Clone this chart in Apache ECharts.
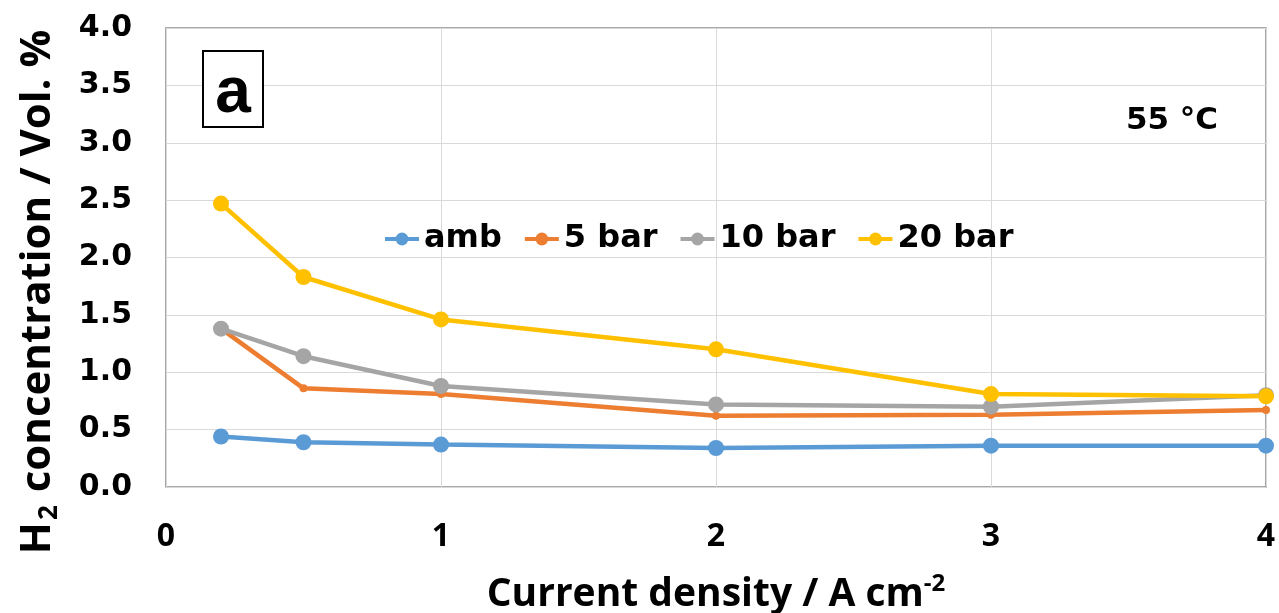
<!DOCTYPE html>
<html>
<head>
<meta charset="utf-8">
<script src="https://cdn.jsdelivr.net/npm/echarts@6/dist/echarts.min.js"></script>
<style>
  html, body { margin: 0; padding: 0; background: #fff; }
  #main { width: 1279px; height: 613px; }
</style>
</head>
<body>
<div id="main"></div>
<script>
// current density, A cm-2
const currentDensity = [0.2, 0.5, 1, 2, 3, 4];
// H2 concentration, vol %
const amb = [0.44, 0.39, 0.37, 0.34, 0.36, 0.36];
const bar5 = [1.38, 0.86, 0.81, 0.62, 0.63, 0.67];
const bar10 = [1.38, 1.14, 0.88, 0.72, 0.70, 0.80];
const bar20 = [2.47, 1.83, 1.46, 1.20, 0.81, 0.79];
const seriesNames = ['amb', '5 bar', '10 bar', '20 bar'];
const seriesColors = ['#5B9BD5', '#ED7D31', '#A5A5A5', '#FFC000'];

const pairs = (ys) => currentDensity.map((x, i) => [x, ys[i]]);

const chart = echarts.init(document.getElementById('main'));

const mkSeries = (name, ys, color, size) => ({
  name: name,
  type: 'line',
  data: pairs(ys),
  symbol: 'circle',
  symbolSize: size,
  itemStyle: { color: color },
  lineStyle: { color: color, width: 4.5 },
  animation: false
});

const option = {
  animation: false,
  grid: {
    left: 166, right: 13, top: 28, bottom: 126,
    outerBoundsMode: 'none',
    show: true, borderColor: '#8c8c8c', borderWidth: 1.5
  },
  legend: {
    left: 378, top: 218,
    itemWidth: 34, itemHeight: 16, itemGap: 21,
    data: seriesNames,
    lineStyle: { width: 4 },
    textStyle: { fontFamily: 'DejaVu Sans', fontWeight: 'bold', fontSize: 32, color: '#000' }
  },
  xAxis: {
    type: 'value', min: 0, max: 4, interval: 1,
    axisLine: { show: false },
    axisTick: { show: false },
    axisLabel: {
      margin: 34, color: '#000',
      fontFamily: 'Open Sans', fontWeight: 'bold', fontSize: 32
    },
    splitLine: { show: true, lineStyle: { color: '#d9d9d9', width: 1 } },
    name: '{t|Current density / A cm}{s|-2}',
    nameLocation: 'middle',
    nameGap: 85,
    nameTextStyle: {
      rich: {
        t: { fontFamily: 'Open Sans', fontWeight: 'bold', fontSize: 39, color: '#000', verticalAlign: 'bottom' },
        s: { fontFamily: 'Open Sans', fontWeight: 'bold', fontSize: 24, color: '#000', verticalAlign: 'top', padding: [0, 0, 18, 0] }
      }
    }
  },
  yAxis: {
    type: 'value', min: 0, max: 4, interval: 0.5,
    axisLine: { show: false },
    axisTick: { show: false },
    axisLabel: {
      margin: 34, color: '#000',
      fontFamily: 'DejaVu Sans', fontWeight: 'bold', fontSize: 30,
      formatter: (v) => v.toFixed(1)
    },
    splitLine: { show: true, lineStyle: { color: '#d9d9d9', width: 1 } }
  },
  graphic: [
    {
      type: 'text', x: 40, y: 292, rotation: Math.PI / 2,
      style: {
        text: '{t|H}{s|2}{t| concentration / Vol. %}',
        align: 'center', verticalAlign: 'middle',
        rich: {
          t: { fontFamily: 'Open Sans', fontWeight: 'bold', fontSize: 42, fill: '#000', verticalAlign: 'top' },
          s: { fontFamily: 'Open Sans', fontWeight: 'bold', fontSize: 26, fill: '#000', verticalAlign: 'bottom', padding: [20, 2, 0, 2] }
        }
      }
    },
    {
      type: 'rect',
      shape: { x: 203, y: 51, width: 60, height: 76 },
      style: { fill: '#fff', stroke: '#000', lineWidth: 2 },
      z: 10
    },
    {
      type: 'text', x: 233, y: 94, z: 11,
      style: {
        text: 'a', align: 'center', verticalAlign: 'middle',
        font: 'bold 64px "Liberation Sans"', fill: '#000'
      }
    },
    {
      type: 'text', x: 1172, y: 121, z: 11,
      style: {
        text: '55 °C', align: 'center', verticalAlign: 'middle',
        font: 'bold 31px "DejaVu Sans"', fill: '#000'
      }
    }
  ],
  series: [
    mkSeries('amb', amb, seriesColors[0], 16),
    mkSeries('5 bar', bar5, seriesColors[1], 8),
    mkSeries('10 bar', bar10, seriesColors[2], 16),
    mkSeries('20 bar', bar20, seriesColors[3], 16)
  ]
};

chart.setOption(option);
</script>
</body>
</html>
